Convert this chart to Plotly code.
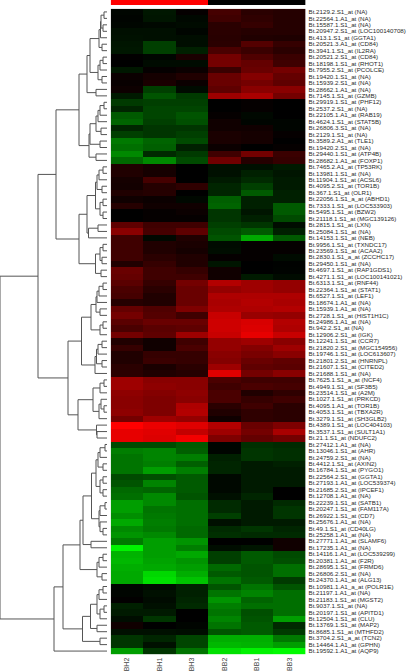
import plotly.graph_objects as go

WIDTH, HEIGHT = 409, 672

columns = ["BH2", "BH1", "BH3", "BB2", "BB1", "BB3"]
group_flags = [1, 1, 1, 0, 0, 0]

genes = """Bt.2129.2.S1_at (NA)
Bt.22564.1.A1_at (NA)
Bt.15587.1.S1_at (NA)
Bt.20947.2.S1_at (LOC100140708)
Bt.413.1.S1_at (GGTA1)
Bt.20521.3.A1_at (CD84)
Bt.3941.1.S1_at (IL2RA)
Bt.20521.2.S1_at (CD84)
Bt.18198.1.S1_at (RHOT1)
Bt.7955.2.S1_at (PCOLCE)
Bt.19420.1.S1_at (NA)
Bt.15939.2.S1_at (NA)
Bt.28662.1.A1_at (NA)
Bt.7145.1.S1_at (GZMB)
Bt.29919.1.S1_at (PHF12)
Bt.2537.2.S1_at (NA)
Bt.22105.1.A1_at (RAB19)
Bt.4624.1.S1_at (STAT5B)
Bt.26806.3.S1_at (NA)
Bt.2129.1.S1_at (NA)
Bt.3589.2.A1_at (TLE1)
Bt.19420.2.S1_at (NA)
Bt.29440.1.S1_at (ATP4B)
Bt.28682.1.A1_at (FOXP1)
Bt.7465.2.A1_at (TP53RK)
Bt.13981.1.S1_at (NA)
Bt.11904.1.S1_at (ACSL6)
Bt.4095.2.S1_at (TOR1B)
Bt.367.1.S1_at (OLR1)
Bt.22056.1.S1_a_at (ABHD1)
Bt.7333.1.S1_at (LOC533903)
Bt.5495.1.S1_at (BZW2)
Bt.21118.1.S1_at (MGC139126)
Bt.2815.1.S1_at (LXN)
Bt.25084.1.S1_at (NA)
Bt.14153.1.S1_at (NEB)
Bt.9956.1.S1_at (TXNDC17)
Bt.23569.1.S1_at (ACAA2)
Bt.2830.1.S1_a_at (ZCCHC17)
Bt.29450.1.S1_at (NA)
Bt.4697.1.S1_at (RAP1GDS1)
Bt.4271.1.S1_at (LOC100141021)
Bt.6313.1.S1_at (RNF44)
Bt.22364.1.S1_at (STAT1)
Bt.6527.1.S1_at (LEF1)
Bt.18674.1.A1_at (NA)
Bt.15939.1.A1_at (NA)
Bt.2728.1.S1_at (HIST1H1C)
Bt.24986.1.A1_at (NA)
Bt.942.2.S1_at (NA)
Bt.12906.2.S1_at (IGK)
Bt.12241.1.S1_at (CCR7)
Bt.21820.2.S1_at (MGC154956)
Bt.19746.1.S1_at (LOC613607)
Bt.21801.2.S1_at (HNRNPL)
Bt.21607.1.S1_at (CITED2)
Bt.21688.1.S1_at (NA)
Bt.7625.1.S1_a_at (NCF4)
Bt.4949.1.S1_at (SF3B5)
Bt.23514.1.S1_at (A2M)
Bt.1027.1.S1_at (PRKCD)
Bt.4095.1.A1_at (TOR1B)
Bt.4053.1.S1_at (TBXA2R)
Bt.3279.1.S1_at (SH3GLB2)
Bt.4389.1.S1_at (LOC404103)
Bt.3537.1.S1_at (SULT1A1)
Bt.21.1.S1_at (NDUFC2)
Bt.27412.1.A1_at (NA)
Bt.13046.1.S1_at (AHR)
Bt.24759.2.S1_at (NA)
Bt.4412.1.S1_at (AXIN2)
Bt.16784.1.S1_at (PYGO1)
Bt.22564.2.S1_at (GGTA1)
Bt.27193.1.A1_at (LOC539374)
Bt.21685.2.S1_at (IPCEF1)
Bt.12708.1.A1_at (NA)
Bt.22239.1.S1_at (SATB1)
Bt.20247.1.S1_at (FAM117A)
Bt.26922.1.S1_at (CD7)
Bt.25676.1.A1_at (NA)
Bt.49.1.S1_at (CD40LG)
Bt.25258.1.A1_at (NA)
Bt.27771.1.A1_at (SLAMF6)
Bt.17235.1.A1_at (NA)
Bt.14116.1.A1_at (LOC539299)
Bt.20381.1.A1_at (F2R)
Bt.28695.1.S1_at (FRMD6)
Bt.26806.2.S1_at (NA)
Bt.24370.1.A1_at (ALG13)
Bt.10981.1.A1_a_at (POLR1E)
Bt.21197.1.A1_at (NA)
Bt.21183.1.S1_at (MGST2)
Bt.9037.1.S1_at (NA)
Bt.20197.1.S1_at (APITD1)
Bt.12504.1.S1_at (CLU)
Bt.13769.1.S1_at (MAP2)
Bt.8685.1.S1_at (MTHFD2)
Bt.3704.2.S1_a_at (TCN2)
Bt.14464.1.A1_at (GPHN)
Bt.19592.1.A1_at (AQP9)""".split("\n")

# Signed colour intensity: positive = red, negative = green
BH2 = [-6,-4,-6,-14,-16,-20,-22,2,0,-22, 10,8,12,-25,-55,-35,-85,-95,-35,-60,
       -115,-105,-130,-100,30,30,20,18,30,15, 35,0,0,90,130,60,60,60,60,30,
       100,95,85,70,65,35,95,110,85,70, 110,30,50,30,30,40,40,150,150,135,
       130,130,135,110,255,225,225,-70,-120,-110, -110,-110,-70,-80,-100,-105,-150,-150,-135,-160,
       -130,-140,-115,-240,-170,-175,-165,-160,-160,-5, -5,2,-30,-25,-12,15,-15,-50,-50,-150]
BH1 = [-22,-20,-8,-14,-14,-60,-60,-5,-10,5, 20,25,-60,-80,-60,-65,-65,-60,-50,-50,
       -95,-90,-40,-130,20,20,65,35,35,10, 15,5,5,60,65,-8,30,30,40,50,
       60,60,50,40,30,30,75,80,100,85, 90,15,15,50,55,25,30,130,135,125,
       120,120,120,150,230,215,210,-70,-125,-125, -120,-150,-75,-125,-95,-130,-130,-110,-115,-120,
       -115,-130,-150,-150,-150,-155,-160,-205,-215,-10, -15,-10,-15,-25,-50,0,-15,-35,-15,-50]
BH3 = [5,-8,-10,-5,-12,-12,-30,25,-10,10, 30,10,-10,-55,-60,-65,-80,-75,-50,-60,
       -70,-30,-55,-70,0,0,0,45,0,-8, 15,10,5,60,90,30,25,20,30,30,
       50,60,110,100,100,100,120,60,100,90, 150,60,70,50,50,40,35,130,130,135,
       130,165,170,140,215,185,240,-85,-90,-120, -90,-120,-85,-85,-85,-80,-105,-105,-105,-105,
       -100,-100,-140,-120,-160,-140,-150,-165,-185,-30, -30,-35,-40,0,0,-5,-12,-65,-65,-110]
BB2 = [65,60,40,40,38,40,70,110,110,55, 100,100,90,150,0,0,5,15,15,25,
       25,10,60,105,-15,-15,-25,-35,-35,-90, -95,-50,-50,-60,-70,-80,-10,-12,5,-20,
       15,15,170,140,165,160,165,190,195,195, 190,140,140,130,125,150,215,70,60,70,
       70,40,30,15,170,150,120,-5,-5,-30, -35,-35,-8,-8,-8,-15,-40,-40,-60,-15,
       -40,-45,0,-12,-60,-60,-100,-85,-110,-80, -110,-140,-120,-110,-125,-110,-80,-165,-175,-215]
BB1 = [40,45,50,35,30,80,55,75,95,100, 125,110,130,160,5,5,-8,-5,15,20,
       20,0,110,35,-15,-30,-40,-60,-85,-30, -30,-20,-30,-50,-85,-160,5,5,5,0,
       0,-25,150,150,165,170,165,145,205,210, 225,150,125,115,100,90,110,60,70,30,
       50,60,45,45,100,110,95,-45,-50,-50, -25,-25,-25,-25,-25,-35,-25,-25,-25,-25,
       -50,-40,0,-20,-85,-85,-80,-80,-85,-110, -125,-95,-105,-75,-80,-85,-85,-165,-170,-240]
BB3 = [35,35,35,35,28,50,40,55,60,110, 95,90,130,110,0,0,0,-5,-5,5,
       0,5,55,50,-25,-20,-25,-25,-30,-30, -85,-85,-70,-12,-30,-85,5,5,-10,-2,
       -3,-10,140,140,165,160,170,140,170,165, 190,130,150,130,90,85,130,60,65,45,
       60,40,40,40,120,160,110,-40,-45,-45, -30,-25,-25,-25,0,0,-40,-50,-50,-25,
       -35,-40,15,15,-70,-75,-105,-105,-55,-80, -105,-105,-105,-105,-150,-40,-55,-115,-150,-250]

# Cluster tree: [merge distance from root, child, child]; an integer child is a row number
tree_a1a = [79,
    [87,
        [90,
            [99, [100.5, [101, [104, 1, 2], [103, 3, 4]], 5], [102, 6, 7]],
            [98, [100, [103, 8, 9], 10], [102, 11, 12]]],
        [96, 13, 14]],
    [89,
        [90,
            [96, [98, [100, [104, 15, 16], 17], 18], [101, 19, 20]],
            [100, 21, 22]],
        [96, 23, 24]]]
tree_a1b = [79,
    [87,
        [95.5,
            [97, [99, [103, 25, 26], 27], [102, 28, 29]],
            [100, [103, 30, 31], [103, 32, 33]]],
        [88.5, [98, 34, 35], 36]],
    [95.5,
        [100, [103, 37, 38], [102, 39, 40]],
        [101, 41, 42]]]
tree_a2 = [68,
    [81.5,
        [91,
            [96, [97, [99, [103, 43, 44], 45], 46], [100, 47, 48]],
            [100, [103, 49, 50], 51]],
        [95, [96.5, [98, [102, 52, 53], 54], [102, 55, 56]], 57]],
    [78,
        [93,
            [100, [104, 58, 59], 60],
            [99, [101, 61, [104, 62, 63]], 64]],
        [96.5, 65, [97, 66, 67]]]]
tree_b = [54,
    [63,
        [80,
            [83,
                [91.5,
                    [96,
                        [98, [100, [105, 68, 69], 70], [103, 71, 72]],
                        [100, [103, 73, 74], [103, 75, 76]]],
                    [99,
                        [100, [105, 77, 78], 79],
                        [100, 80, [103, 81, 82]]]],
                [91, 83, 84]],
            [97, [99, [103, 85, 86], 87], [102, 88, 89]]],
        [82.5,
            [90.5,
                [97, [99, [103, 90, 91], 92], [100, [104, 93, 94], 95]],
                [97, 96, 97]],
            [100, 98, 99]]],
    100]
tree = [0, [38, [56, tree_a1a, tree_a1b], tree_a2], tree_b]
LEAF_DISTANCE = 107

link_x, link_y = [], []


def walk(node):
    """Return (distance, row position) of a node, appending its bracket."""
    if isinstance(node, int):
        return LEAF_DISTANCE, node
    d, left, right = node
    dl, yl = walk(left)
    dr, yr = walk(right)
    link_x.extend([dl, d, d, dr, None])
    link_y.extend([yl, yl, yr, yr, None])
    return d, (yl + yr) / 2


walk(tree)

rows = list(range(1, len(genes) + 1))
z = [list(v) for v in zip(BH2, BH1, BH3, BB2, BB1, BB3)]
# Slightly compressed mid-range so that only the extreme cells reach full brightness
scale = [[0, "rgb(0,255,0)"], [0.1, "rgb(0,215,0)"], [0.5, "rgb(0,0,0)"],
         [0.9, "rgb(215,0,0)"], [1, "rgb(255,0,0)"]]

fig = go.Figure()
fig.add_trace(go.Heatmap(x=columns, y=rows, z=z, zmin=-255, zmax=255, colorscale=scale,
                         showscale=False, xgap=0, ygap=0, hoverinfo="skip"))
fig.add_trace(go.Heatmap(x=columns, y=["group"], z=[group_flags], zmin=0, zmax=1,
                         colorscale=[[0, "black"], [1, "red"]], showscale=False,
                         yaxis="y2", hoverinfo="skip"))
fig.add_trace(go.Scatter(x=link_x, y=link_y, mode="lines", xaxis="x2", yaxis="y",
                         line=dict(color="rgb(85,85,85)", width=1), hoverinfo="skip",
                         showlegend=False))

fig.update_layout(
    template="none",
    width=WIDTH, height=HEIGHT, autosize=False,
    margin=dict(l=0, r=0, t=0, b=0), paper_bgcolor="white", plot_bgcolor="white",
    showlegend=False,
    xaxis=dict(domain=[110.7 / WIDTH, 305.5 / WIDTH], type="category", tickangle=-90,
               tickfont=dict(family="Liberation Sans", size=7, color="#444444"),
               ticks="", showgrid=False, zeroline=False, showline=False, anchor="y",
               ticklabelstandoff=1, automargin=False),
    yaxis=dict(domain=[1 - 654.3 / HEIGHT, 1 - 8.7 / HEIGHT], range=[100.5, 0.5],
               side="right", anchor="x", tickmode="array", tickvals=rows, ticktext=genes,
               tickfont=dict(family="Liberation Sans", size=6.2, color="#2a2a2a"),
               ticks="", showgrid=False, zeroline=False, showline=False,
               ticklabelstandoff=2, automargin=False),
    xaxis2=dict(domain=[0, 108 / WIDTH], range=[0, 108], visible=False, anchor="y"),
    yaxis2=dict(domain=[1 - 5 / HEIGHT, 1], visible=False, anchor="x", type="category"),
)

fig.write_html("out.html", post_script="document.body.style.margin='0';",
               config={"displayModeBar": False})
